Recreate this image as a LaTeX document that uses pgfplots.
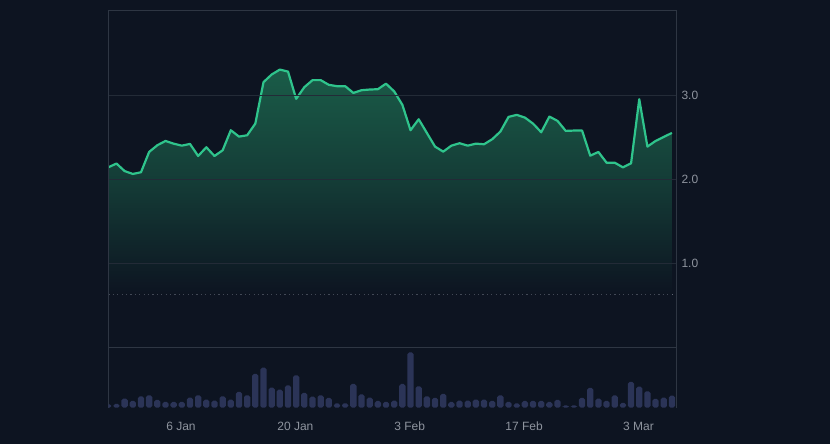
\documentclass[border=0pt]{standalone}
\usepackage{fontspec}
\setmainfont{Liberation Sans}
\usepackage{pgfplots}
\pgfplotsset{compat=1.18}
\definecolor{bg}{HTML}{0D1421}
\definecolor{gridc}{HTML}{232B37}
\definecolor{borderc}{HTML}{2E3643}
\definecolor{linec}{HTML}{2FC48C}
\definecolor{areatop}{HTML}{1A5C48}
\definecolor{barc}{HTML}{2B3457}
\definecolor{labc}{HTML}{8E949E}
\definecolor{dotc}{HTML}{5F6674}
\begin{document}
\begin{tikzpicture}[x=1pt,y=1pt]
\fill[bg] (0,0) rectangle (830,444);
\begin{axis}[
  at={(108.3pt,96.7pt)}, anchor=south west, scale only axis,
  width=567.7pt, height=337.3pt,
  xmin=0, xmax=69.5, ymin=0, ymax=4.02,
  xtick=\empty,
  ytick={1,2,3}, yticklabels={1.0,2.0,3.0},
  yticklabel pos=right,
  ymajorgrids, grid style={gridc, line width=1pt},
  major tick length=0pt,
  axis on top,
  axis line style={borderc, line width=0.8pt},
  tick label style={labc, font=\fontsize{12}{14}\selectfont},
  /pgf/number format/assume math mode=true,
  yticklabel style={xshift=2pt},
]
\addplot[dotc, line width=1.3pt, dash pattern=on 1.3pt off 3.1pt, forget plot] coordinates {(0,0.63) (69.5,0.63)};
\addplot[draw=none, top color=areatop, bottom color=bg, middle color=areatop!55!bg, forget plot] coordinates {
(0,2.145) (1,2.19) (2,2.10) (3,2.066) (4,2.086) (5,2.328) (6,2.408) (7,2.459) (8,2.427) (9,2.403)
(10,2.424) (11,2.28) (12,2.384) (13,2.28) (14,2.348) (15,2.587) (16,2.511) (17,2.527) (18,2.666) (19,3.160)
(20,3.251) (21,3.310) (22,3.286) (23,2.961) (24,3.100) (25,3.184) (26,3.184) (27,3.128) (28,3.112) (29,3.112)
(30,3.032) (31,3.064) (32,3.072) (33,3.076) (34,3.142) (35,3.05) (36,2.89) (37,2.587) (38,2.718) (39,2.555)
(40,2.392) (41,2.332) (42,2.403) (43,2.432) (44,2.403) (45,2.427) (46,2.42) (47,2.48) (48,2.571) (49,2.746)
(50,2.770) (51,2.738) (52,2.666) (53,2.563) (54,2.75) (55,2.698) (56,2.579) (57,2.583) (58,2.583) (59,2.284)
(60,2.328) (61,2.2) (62,2.2) (63,2.145) (64,2.193) (65,2.957) (66,2.392) (67,2.459) (68,2.507) (69,2.555)
(69,0.63) (0,0.63)} -- cycle;
\addplot[linec, line width=2.2pt, line join=round, mark=none] coordinates {
(0,2.145) (1,2.19) (2,2.10) (3,2.066) (4,2.086) (5,2.328) (6,2.408) (7,2.459) (8,2.427) (9,2.403)
(10,2.424) (11,2.28) (12,2.384) (13,2.28) (14,2.348) (15,2.587) (16,2.511) (17,2.527) (18,2.666) (19,3.160)
(20,3.251) (21,3.310) (22,3.286) (23,2.961) (24,3.100) (25,3.184) (26,3.184) (27,3.128) (28,3.112) (29,3.112)
(30,3.032) (31,3.064) (32,3.072) (33,3.076) (34,3.142) (35,3.05) (36,2.89) (37,2.587) (38,2.718) (39,2.555)
(40,2.392) (41,2.332) (42,2.403) (43,2.432) (44,2.403) (45,2.427) (46,2.42) (47,2.48) (48,2.571) (49,2.746)
(50,2.770) (51,2.738) (52,2.666) (53,2.563) (54,2.75) (55,2.698) (56,2.579) (57,2.583) (58,2.583) (59,2.284)
(60,2.328) (61,2.2) (62,2.2) (63,2.145) (64,2.193) (65,2.957) (66,2.392) (67,2.459) (68,2.507) (69,2.555)};
\end{axis}
\begin{axis}[
  at={(108.3pt,36.3pt)}, anchor=south west, scale only axis,
  width=567.7pt, height=60.4pt,
  xmin=0, xmax=69.5, ymin=0, ymax=60.4,
  ytick=\empty,
  xtick={8.9,22.9,36.9,50.9,64.9},
  xticklabels={6 Jan,20 Jan,3 Feb,17 Feb,3 Mar},
  major tick length=0pt,
  separate axis lines,
  x axis line style={draw=none},
  y axis line style={borderc, line width=0.8pt},
  tick label style={labc, font=\fontsize{12}{14}\selectfont},
  xticklabel style={yshift=-11pt},
  ybar, bar width=6.3pt,
]
\addplot[fill=barc, draw=none, rounded corners=1.8pt] coordinates {
(0,3.3) (1,3.7) (2,9) (3,6.7) (4,11.3) (5,12.3) (6,7.7) (7,5.7) (8,5.7) (9,5.7)
(10,10) (11,12.3) (12,8) (13,7) (14,11.3) (15,8) (16,15.7) (17,12.3) (18,33.7) (19,40)
(20,20) (21,18) (22,22.3) (23,32.3) (24,14.7) (25,11) (26,12.3) (27,9.7) (28,4.3) (29,4.3)
(30,23.7) (31,13.3) (32,10) (33,6.7) (34,5.7) (35,7) (36,23.7) (37,55.3) (38,21.3) (39,11.3)
(40,9.7) (41,13.7) (42,5.7) (43,7) (44,7) (45,8) (46,8) (47,6.7) (48,12.3) (49,5.7)
(50,4.3) (51,6.7) (52,6.7) (53,6.7) (54,5.7) (55,7.7) (56,2.3) (57,2.3) (58,9.7) (59,19.7)
(60,9) (61,6.7) (62,12.3) (63,4.7) (64,25.7) (65,21) (66,16.3) (67,8.7) (68,10) (69,12)};
\end{axis}
\end{tikzpicture}
\end{document}
